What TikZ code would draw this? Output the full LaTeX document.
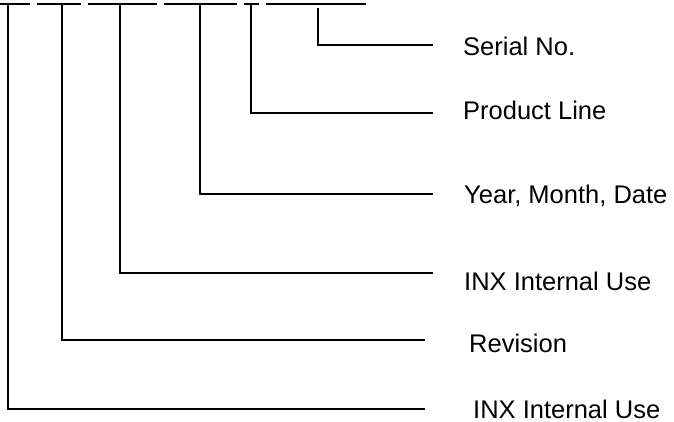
\documentclass[tikz,border=0pt]{standalone}
\usepackage{fontspec}
\setmainfont{Liberation Sans}
\begin{document}
\begin{tikzpicture}[x=1pt,y=-1pt,
  lbl/.style={anchor=base west,inner sep=0pt,font=\fontsize{25.5}{28}\selectfont},
  lead/.style={line width=1.1pt},
  seg/.style={line width=2.4pt}]
\useasboundingbox (0,0) rectangle (674,421);
% field dashes
\draw[seg] (0,4) -- (30,4);
\draw[seg] (37,4) -- (81,4);
\draw[seg] (88,4) -- (157,4);
\draw[seg] (164,4) -- (237,4);
\draw[seg] (244,4) -- (259,4);
\draw[seg] (266,4) -- (366,4);
% labels
\node[lbl] (l1) at (463,55) {Serial No.};
\node[lbl] (l2) at (463,119) {Product Line};
\node[lbl] (l3) at (464,203) {Year, Month, Date};
\node[lbl] (l4) at (464,290) {INX Internal Use};
\node[lbl] (l5) at (469,352) {Revision};
\node[lbl] (l6) at (473,418) {INX Internal Use};
% leader start points
\coordinate (t1) at (318,8);
\coordinate (t2) at (251,5);
\coordinate (t3) at (200,5);
\coordinate (t4) at (120,5);
\coordinate (t5) at (62,5);
\coordinate (t6) at (8,5);
% leader end points
\coordinate (e1) at (433,45);
\coordinate (e2) at (433,113);
\coordinate (e3) at (433,194);
\coordinate (e4) at (433,273);
\coordinate (e5) at (425,340);
\coordinate (e6) at (425,409);
\foreach \i in {1,...,6}{\draw[lead] (t\i) |- (e\i);}
\end{tikzpicture}
\end{document}
